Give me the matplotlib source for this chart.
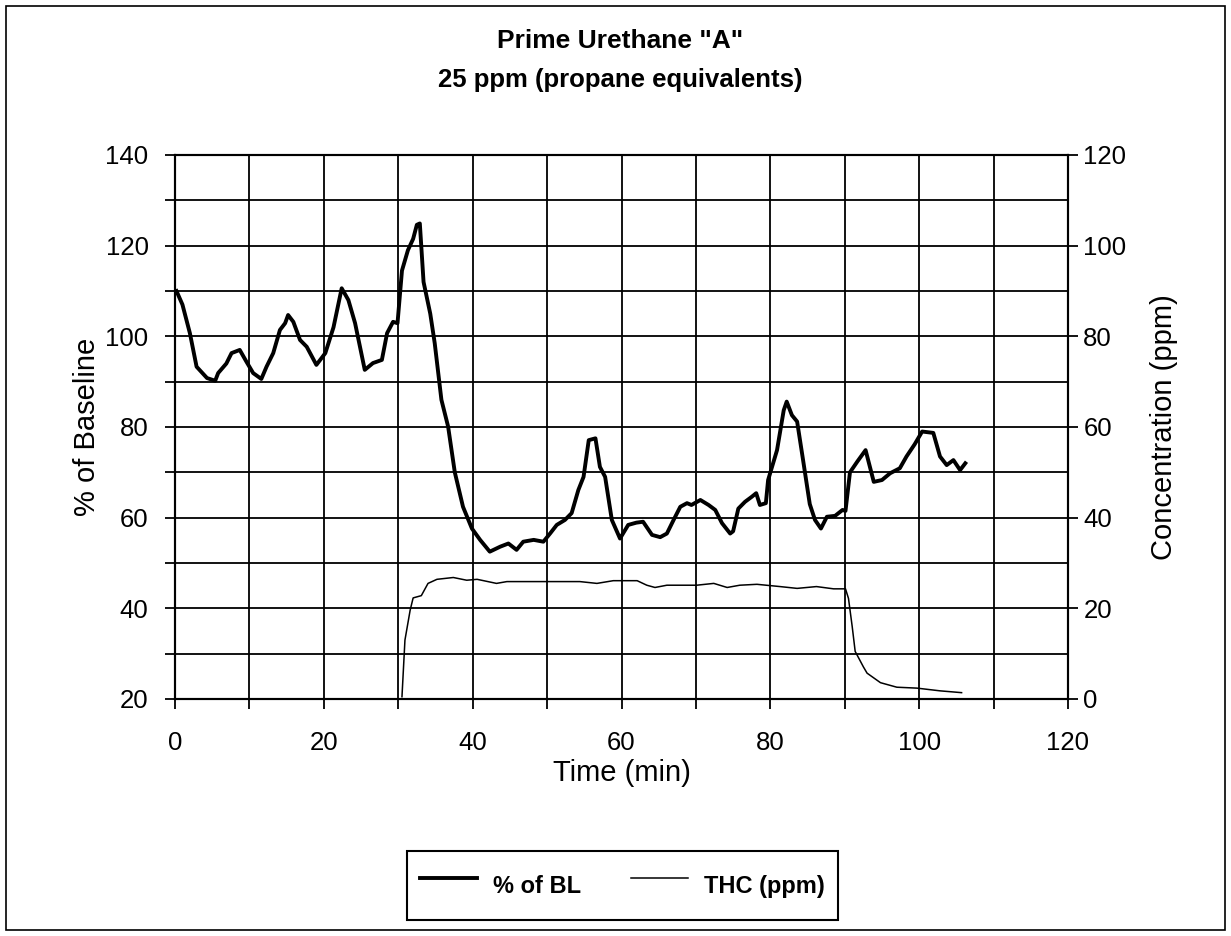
import matplotlib
matplotlib.use('Agg')
import matplotlib.pyplot as plt
from matplotlib.patches import Rectangle
import numpy as np

plt.rcParams['font.family'] = ['Liberation Sans', 'DejaVu Sans']

# % of baseline (left axis)
time_bl = [0.2, 1.0, 2.0, 2.9, 4.3, 5.4, 5.8, 6.9, 7.6, 8.7, 9.6, 10.5, 11.6, 12.3, 13.2,
           14.1, 14.8, 15.2, 15.9, 16.8, 17.7, 19.0, 20.2, 21.3, 22.4, 23.3, 24.2, 25.5,
           26.6, 27.8, 28.5, 29.3, 29.9, 30.5, 31.3, 32.0, 32.5, 32.9, 33.4, 34.3, 34.9,
           35.8, 36.7, 37.6, 38.7, 39.9, 41.0, 42.3, 43.7, 44.8, 45.9, 46.8, 48.2, 49.5,
           50.4, 51.3, 52.4, 53.3, 54.2, 54.9, 55.6, 56.5, 57.1, 57.8, 58.7, 59.8, 60.9,
           62.0, 62.9, 64.1, 65.2, 66.1, 67.0, 67.9, 68.8, 69.4, 70.6, 71.7, 72.6, 73.5,
           74.6, 75.0, 75.7, 76.6, 77.5, 78.1, 78.6, 79.4, 79.7, 80.9, 81.8, 82.2, 82.9,
           83.6, 84.4, 85.3, 86.0, 86.8, 87.6, 88.7, 89.7, 90.1, 90.7, 91.7, 92.8, 93.9,
           95.0, 96.1, 97.4, 98.3, 99.4, 100.4, 101.9, 102.8, 103.7, 104.6, 105.5, 106.2]
pct_bl = [110, 107, 100.7, 93.3, 90.8, 90.2, 91.9, 94, 96.3, 97, 94.4, 91.9, 90.6, 93.3, 96.3,
          101.4, 102.9, 104.7, 103.2, 99.2, 97.7, 93.7, 96.3, 102, 110.6, 108, 102.9, 92.6,
          94.1, 94.8, 100.7, 103.2, 102.9, 114.5, 119, 121.5, 124.6, 124.9, 112, 105, 98.5,
          86, 80.1, 70, 62.4, 57.6, 55.1, 52.5, 53.6, 54.3, 52.9, 54.7, 55.1, 54.7,
          56.5, 58.4, 59.5, 61, 66.1, 69, 77.1, 77.5, 71.2, 69, 59.5, 55.4, 58.4,
          58.9, 59.1, 56.2, 55.7, 56.5, 59.5, 62.4, 63.2, 62.8, 63.9, 62.8, 61.7, 58.8,
          56.5, 57, 62, 63.5, 64.6, 65.4, 62.8, 63.2, 68.3, 74.9, 83.7, 85.6, 82.6,
          81.2, 72.7, 63, 59.5, 57.6, 60.2, 60.4, 61.7, 61.5, 70, 72.4, 74.9, 67.9,
          68.3, 69.8, 70.9, 73.5, 76.2, 79, 78.7, 73.5, 71.6, 72.7, 70.5, 72]

# THC concentration (right axis)
time_thc = [30.5, 30.9, 31.6, 32.0, 33.1, 34.0, 35.2, 37.4, 39.2, 40.6, 43.2, 44.6, 47.7,
            50.0, 54.4, 56.7, 58.9, 62.1, 63.4, 64.5, 66.1, 70.1, 72.4, 74.2, 75.9, 78.2,
            81.3, 83.6, 86.2, 88.5, 90.1, 90.5, 91.0, 91.4, 92.5, 93.0, 94.8, 97.0, 99.7,
            102.8, 105.7]
thc = [0.5, 13, 19.6, 22.3, 22.8, 25.5, 26.4, 26.8, 26.2, 26.4, 25.5, 25.9, 25.9,
       25.9, 25.9, 25.5, 26.1, 26.1, 25.1, 24.6, 25.1, 25.1, 25.5, 24.6, 25.1, 25.3,
       24.8, 24.4, 24.8, 24.3, 24.3, 22.2, 16, 10.5, 7.1, 5.7, 3.6, 2.6, 2.4,
       1.8, 1.4]

fig = plt.figure(figsize=(12.31, 9.36), dpi=100)
ax = fig.add_axes([175 / 1231, 1 - 699 / 936, (1068 - 175) / 1231, (699 - 155) / 936])
ax2 = ax.twinx()

l1, = ax.plot(time_bl, pct_bl, color='black', linewidth=2.8, label='% of BL', zorder=3)
l2, = ax2.plot(time_thc, thc, color='black', linewidth=1.1, label='THC (ppm)', zorder=3)

ax.set_xlim(0, 120)
ax.set_ylim(20, 140)
ax2.set_ylim(0, 120)
ax.set_xticks(np.arange(0, 121, 20))
ax.set_xticks(np.arange(10, 120, 20), minor=True)
ax.set_yticks(np.arange(20, 141, 20))
ax.set_yticks(np.arange(30, 140, 20), minor=True)
ax2.set_yticks(np.arange(0, 121, 20))

ax.grid(True, which='major', axis='both', color='black', linewidth=1.3)
ax.grid(True, which='minor', axis='both', color='black', linewidth=1.3)
ax.set_axisbelow(True)

for a in (ax, ax2):
    for s in a.spines.values():
        s.set_linewidth(1.5)
ax.tick_params(axis='y', which='both', direction='out', length=7, width=1.3,
               labelsize=18.5, pad=12)
ax.tick_params(axis='x', which='both', direction='out', length=7, width=1.3,
               labelsize=18.5, pad=16)
ax2.tick_params(direction='out', length=7, width=1.3, labelsize=18.5, pad=4)

ax.set_xlabel('Time (min)', fontsize=21, labelpad=3)
ax.set_ylabel('% of Baseline', fontsize=21, labelpad=3)
ax2.set_ylabel('Concentration (ppm)', fontsize=21, labelpad=17)

fig.text(0.504, 1 - 41 / 936, 'Prime Urethane "A"', ha='center', va='center',
         fontsize=19, fontweight='bold')
fig.text(0.504, 1 - 80 / 936, '25 ppm (propane equivalents)', ha='center', va='center',
         fontsize=18.5, fontweight='bold')

leg = fig.legend(handles=[l1, l2], loc='center', bbox_to_anchor=(0.5057, 0.054), ncol=2,
                 fancybox=False, edgecolor='black', framealpha=1,
                 prop={'weight': 'bold', 'size': 17}, handlelength=2.4, handleheight=2.4,
                 columnspacing=2.1, borderpad=0.55, handletextpad=0.7)
leg.get_frame().set_linewidth(1.5)

# outer frame of the chart
fig.patches.append(Rectangle((6 / 1231, 6 / 936), 1 - 12 / 1231, 1 - 12 / 936,
                             transform=fig.transFigure, fill=False,
                             edgecolor='black', linewidth=1.2))

fig.savefig('out.png', dpi=100)
